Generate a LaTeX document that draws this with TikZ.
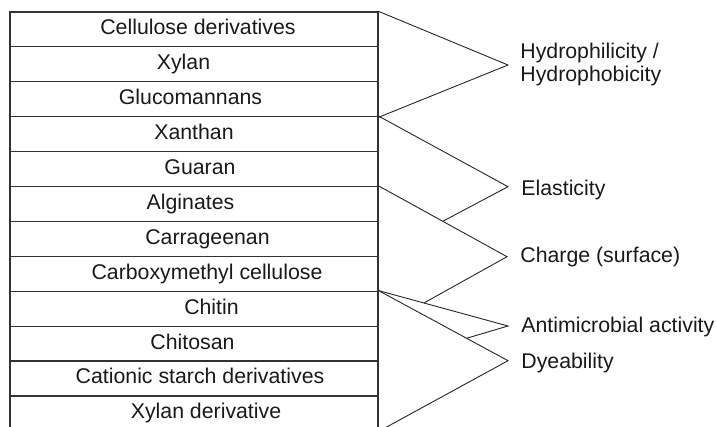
\documentclass[tikz,border=0pt]{standalone}
\usepackage{fontspec}
\setmainfont{Liberation Sans}
\usetikzlibrary{calc}

\begin{document}
\begin{tikzpicture}[x=0.5pt, y=-0.5pt, every node/.style={font=\fontsize{10.65}{11.3}\selectfont, text=black!90},
	rowbox/.style={draw=black!80, line width=0.6pt, minimum width=184pt, minimum height=17.45pt, inner sep=0pt},
	lbl/.style={text height=7.6pt, text depth=2.1pt, inner sep=0pt},
	prop/.style={anchor=west, inner sep=0pt, align=left},
	leg/.style={draw=black!85, line width=0.45pt}]
	\clip (0,0) rectangle (716,427);
	\foreach \i/\dx/\t in {1/4/Cellulose derivatives, 2/-10.5/Xylan, 3/-3.5/Glucomannans, 4/0/Xanthan, 5/6/Guaran, 6/-3.5/Alginates, 7/13.5/Carrageenan, 8/13/Carboxymethyl cellulose, 9/17.5/Chitin, 10/-1.5/Chitosan, 11/6/Cationic starch derivatives, 12/12/Xylan derivative} {
		\node[rowbox] (r\i) at (194,{12+34.9*(\i-0.5)}) {};
		\node[lbl] (t\i) at ($(r\i.center)+(\dx,0)$) {\t};
	}
	\node[prop] (p1) at (520,64.4) {Hydrophilicity /\\Hydrophobicity};
	\node[prop, lbl] (p2) at (521,190) {Elasticity};
	\node[prop, lbl] (p3) at (520,256.7) {Charge (surface)};
	\node[prop, lbl] (p4) at (521,326.7) {Antimicrobial activity};
	\node[prop, lbl] (p5) at (521,363) {Dyeability};
	\coordinate (a1) at (508,65);
	\coordinate (a2) at (508,186.7);
	\coordinate (a3) at (507,256.7);
	\coordinate (a4) at (508,326);
	\coordinate (a5) at (508,360.7);
	\draw[leg] (r1.north east) -- (a1) -- (r3.south east);
	\draw[leg] (r4.north east) -- (a2) -- ($(r6.north east)!0.5!(a3)$);
	\draw[leg] (r6.north east) -- (a3) -- ($(r9.north east)!0.35!(a4)$);
	\draw[leg] (r9.north east) -- (a4) -- ($(r9.north east)!0.68!(a5)$);
	\draw[leg] (r9.north east) -- (a5) -- (r12.south east);
\end{tikzpicture}
\end{document}
